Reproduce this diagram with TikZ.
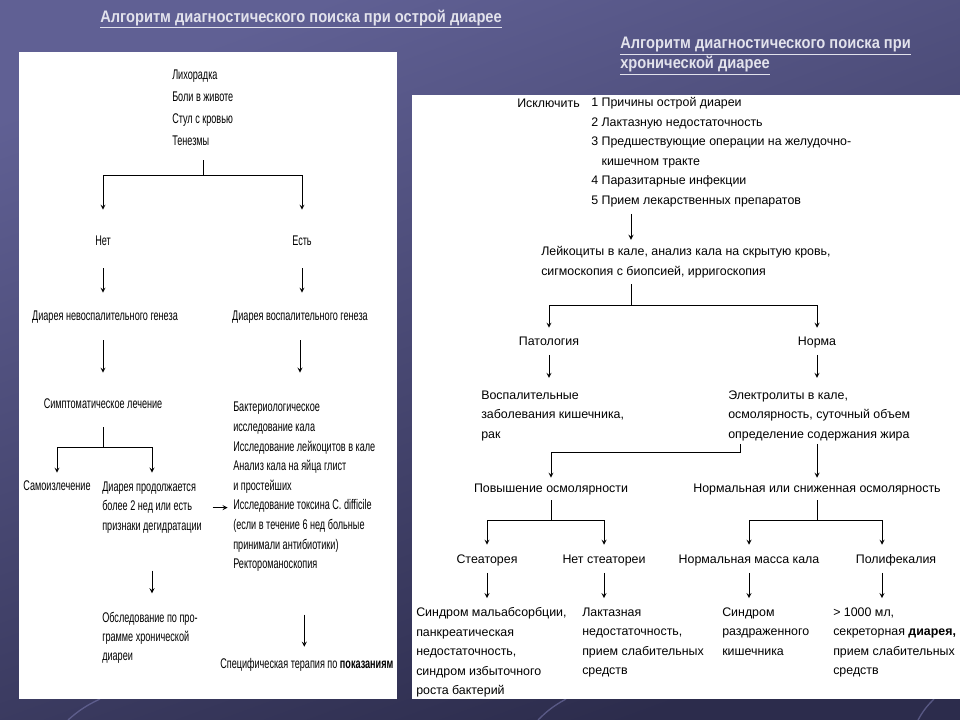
\documentclass[tikz,border=0pt]{standalone}
\usepackage{fontspec}
\setmainfont{Liberation Sans}
\newfontfamily\narrowsans[FakeStretch=0.65]{Liberation Sans}
\newfontfamily\titlesans[FakeStretch=0.88]{Liberation Sans}
\usetikzlibrary{positioning}
\definecolor{slidetop}{RGB}{96,96,148}
\definecolor{slidebot}{RGB}{44,44,76}
\definecolor{titlegray}{RGB}{226,226,236}
\definecolor{swoosh}{RGB}{118,118,170}

\begin{document}
\begin{tikzpicture}[x=0.75pt,y=-0.75pt,>=stealth,
  every node/.style={inner sep=0pt},
  one/.style={text height=7pt,text depth=2pt},
  rt/.style={font=\fontsize{9.3}{14.6}\selectfont},
  lt/.style={font=\narrowsans\fontsize{10.5}{14.7}\selectfont},
  ttl/.style={text=titlegray,font=\titlesans\bfseries\fontsize{12.5}{13}\selectfont,anchor=west},
  ln/.style={line width=0.7pt},
  arr/.style={->,line width=0.7pt}]
\useasboundingbox (0,0) rectangle (960,720);
\shade[top color=slidetop,bottom color=slidebot,shading angle=20] (0,0) rectangle (960,720);
\draw[swoosh,line width=1pt,opacity=0.6] (68,720) to[bend left=8] (100,699);
\draw[swoosh,line width=1pt,opacity=0.6] (538,720) to[bend left=8] (566,699);
\draw[swoosh,line width=1pt,opacity=0.6] (918,720) to[bend left=8] (934,699);
\fill[white] (19,52) rectangle (397,699);
\fill[white] (412,95) rectangle (960,699);

% titles
\node[ttl] (title1) at (100,19) {\underline{Алгоритм диагностического поиска при острой диарее}};
\node[ttl,align=left,anchor=north west] (title2) at (620,37)
  {\underline{Алгоритм диагностического поиска при}\\\underline{хронической диарее}};

% acute diarrhoea
\node[lt,align=left,anchor=north west,font=\narrowsans\fontsize{10.5}{16.3}\selectfont] (sympt) at (172,70)
  {Лихорадка\\Боли в животе\\Стул с кровью\\Тенезмы};
\node[lt,one] (net) at (103,242) {Нет};
\node[lt,one] (est) at (302,242) {Есть};
\node[lt,one] (noninfl) at (105,317) {Диарея невоспалительного генеза};
\node[lt,one] (infl) at (300,317) {Диарея воспалительного генеза};
\node[lt,one] (symtx) at (103,405) {Симптоматическое лечение};
\node[lt,one] (self) at (57,487) {Самоизлечение};
\node[lt,align=left,anchor=north west,font=\narrowsans\fontsize{10.5}{14.3}\selectfont] (persist) at (102,482)
  {Диарея продолжается\\более 2 нед или есть\\признаки дегидратации};
\node[lt,align=left,anchor=north west] (bact) at (233,402)
  {Бактериологическое\\исследование кала\\Исследование лейкоцитов в кале\\Анализ кала на яйца глист\\и простейших\\Исследование токсина C. difficile\\(если в течение 6 нед больные\\принимали антибиотики)\\Ректороманоскопия};
\node[lt,align=left,anchor=north west,font=\narrowsans\fontsize{10.5}{14.3}\selectfont] (chronic) at (102,612)
  {Обследование по про-\\грамме хронической\\диареи};
\node[lt,one,anchor=west] (spec) at (220,665) {Специфическая терапия по \textbf{показаниям}};

\coordinate (lf1) at (203,175);
\coordinate (lf2) at (103,447);
\draw[ln,shorten <=11pt] (sympt.south -| lf1) -- (lf1);
\draw[arr,shorten >=19.5pt] (lf1) -| (net);
\draw[arr,shorten >=19.5pt] (lf1) -| (est);
\draw[arr,shorten <=15pt,shorten >=13.5pt] (net.south) -- (net.south |- noninfl.north);
\draw[arr,shorten <=15pt,shorten >=13.5pt] (est.south) -- (est.south |- infl.north);
\draw[arr,shorten <=12.75pt,shorten >=19.5pt] (noninfl.south -| symtx) -- (symtx.north);
\draw[arr,shorten <=12.75pt,shorten >=22pt] (infl.south) -- (infl.south |- bact.north);
\draw[ln,shorten <=12pt] (symtx.south) -- (lf2);
\draw[arr,shorten >=6pt] (lf2) -| (self);
\draw[arr,shorten >=7pt] (lf2) -| (persist);
\draw[arr,shorten <=28pt,shorten >=14pt] (persist.south) -- (persist.south |- chronic.north);
\draw[arr,shorten <=8pt,shorten >=4pt] (persist.east) -- (persist.east -| bact.west);
\draw[arr,shorten <=32pt,shorten >=9pt] (bact.south) -- (bact.south |- spec.north);

% chronic diarrhoea
\node[rt,one,anchor=west] (excl) at (517,104) {Исключить};
\node[rt,align=left,anchor=north west] (list) at (591,97.5)
  {1 Причины острой диареи\\2 Лактазную недостаточность\\3 Предшествующие операции на желудочно-\\\phantom{3 }кишечном тракте\\4 Паразитарные инфекции\\5 Прием лекарственных препаратов};
\node[rt,align=left,anchor=north west] (leuk) at (541,246.5)
  {Лейкоциты в кале, анализ кала на скрытую кровь,\\сигмоскопия с биопсией, ирригоскопия};
\node[rt,one] (pat) at (549,342) {Патология};
\node[rt,one] (norm) at (817,342) {Норма};
\node[rt,align=left,anchor=north west] (infl2) at (481,390.5)
  {Воспалительные\\заболевания кишечника,\\рак};
\node[rt,align=left,anchor=north west] (elec) at (728,390.5)
  {Электролиты в кале,\\осмолярность, суточный объем\\определение содержания жира};
\node[rt,one] (high) at (551,489) {Повышение осмолярности};
\node[rt,one] (low) at (817,489) {Нормальная или сниженная осмолярность};
\node[rt,one] (steat) at (487,560) {Стеаторея};
\node[rt,one] (nosteat) at (604,560) {Нет стеатореи};
\node[rt,one] (normmass) at (749,560) {Нормальная масса кала};
\node[rt,one] (polyf) at (896,560) {Полифекалия};
\node[rt,align=left,anchor=north west] (malabs) at (416,607.5)
  {Синдром мальабсорбции,\\панкреатическая\\недостаточность,\\синдром избыточного\\роста бактерий};
\node[rt,align=left,anchor=north west] (lact) at (582,607.5)
  {Лактазная\\недостаточность,\\прием слабительных\\средств};
\node[rt,align=left,anchor=north west] (ibs) at (722,607.5)
  {Синдром\\раздраженного\\кишечника};
\node[rt,align=left,anchor=north west] (secr) at (833,607.5)
  {> 1000 мл,\\секреторная \textbf{диарея,}\\прием слабительных\\средств};

\coordinate (rx) at (631,305);
\coordinate (ex) at (740,452);
\coordinate (hf) at (551,520);
\coordinate (lw) at (817,520);
\draw[arr,shorten <=5pt,shorten >=5pt] (rx |- list.south) -- (rx |- leuk.north);
\draw[ln,shorten <=4.5pt] (rx |- leuk.south) -- (rx);
\draw[arr,shorten >=6pt] (rx) -| (pat);
\draw[arr,shorten >=6pt] (rx) -| (norm);
\draw[arr,shorten <=5pt,shorten >=9.4pt] (pat.south) -- (pat.south |- infl2.north);
\draw[arr,shorten <=5pt,shorten >=9.4pt] (norm.south) -- (norm.south |- elec.north);
\draw[arr,shorten <=2pt,shorten >=3.75pt] (ex |- elec.south) -- (ex) -| (high);
\draw[arr,shorten <=2pt,shorten >=3.75pt] (norm.south |- elec.south) -- (norm.south |- low.north);
\draw[ln,shorten <=3.75pt] (high.south) -- (hf);
\draw[ln,shorten <=3.75pt] (low.south) -- (lw);
\foreach \n in {steat,nosteat}
  \draw[arr,shorten >=6.75pt] (hf) -| (\n);
\draw[arr,shorten >=6.75pt] (lw) -| (normmass);
\draw[arr,shorten >=6.75pt] (lw) -| ([xshift=-10.5pt]polyf.north);
\foreach \a/\b in {steat/malabs,nosteat/lact,normmass/ibs}
  \draw[arr,shorten <=5pt,shorten >=7pt] (\a.south) -- (\a.south |- \b.north);
\draw[arr,shorten <=5pt,shorten >=7pt] ([xshift=-10.5pt]polyf.south) -- ([xshift=-10.5pt]polyf.south |- secr.north);
\end{tikzpicture}
\end{document}
